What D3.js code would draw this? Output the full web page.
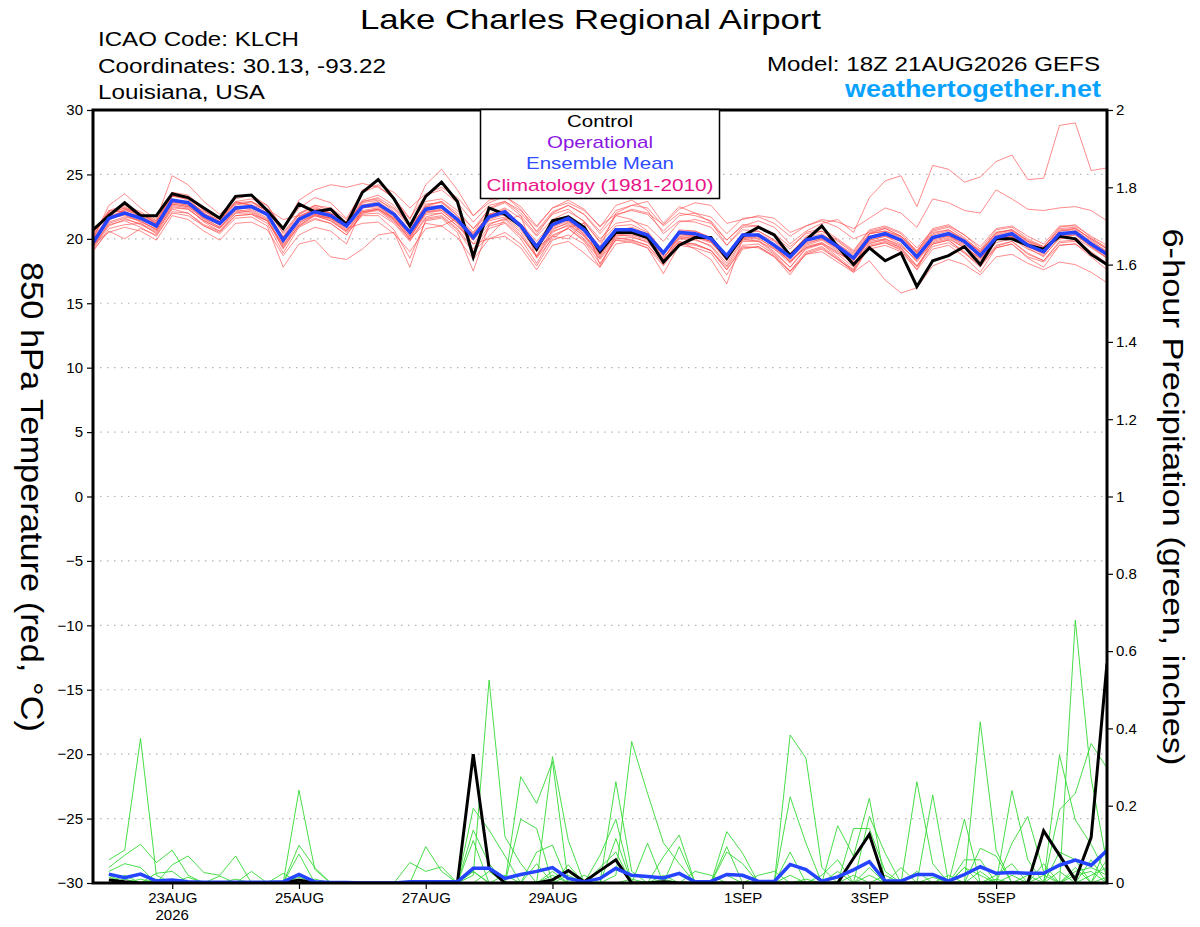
<!DOCTYPE html>
<html><head><meta charset="utf-8">
<script src="https://cdn.jsdelivr.net/npm/d3@7"></script>
<style>
body{margin:0;background:#fff}
svg{display:block}
text{font-family:"Liberation Sans",Arial,Helvetica,sans-serif}
</style>
</head><body>
<svg id="chart" width="1200" height="927"></svg>
<script>
// ---------------- DATA ----------------
const stepHours = 6;              // forecast step (hours)
const lastHour = 384;             // forecast length (hours)

// 850 hPa temperature, control run (black), hours 0..384 every 6 h
const tempControl = [20.7, 21.8,22.8,21.8,21.8, 23.5,23.2,22.4,21.6, 23.3,23.4,22.2,20.8, 22.7,22.1,22.3,21.1,
  23.6,24.6,23.1,21.0, 23.3,24.4,22.9,18.6, 22.4,21.9,21.0,19.2, 21.4,21.7,20.9,19.0,
  20.5,20.5,20.1,18.2, 19.5,20.1,20.1,18.5, 20.2,20.9,20.3,18.7, 19.9,21.0,19.4,18.0,
  19.3,18.3,18.9,16.3, 18.3,18.7,19.4,18.0, 20.0,20.0,19.5,19.2, 20.2,20.0,18.8,18.0];

// ensemble mean (blue)
const tempMean = [19.7, 21.6,22.0,21.6,21.0, 23.0,22.8,21.8,21.2, 22.4,22.5,21.9,19.9, 21.5,22.1,21.8,21.0,
  22.5,22.7,21.9,20.5, 22.3,22.5,21.5,20.1, 21.7,22.1,21.0,19.4, 21.1,21.6,20.7,19.2,
  20.7,20.7,20.3,18.9, 20.5,20.4,20.0,18.7, 20.3,20.3,19.5,18.6, 19.9,20.2,19.4,18.5,
  20.1,20.4,19.9,18.6, 20.1,20.4,19.8,18.7, 20.1,20.4,19.5,19.0, 20.4,20.5,19.6,18.8];

// ensemble members (thin red)
const tempMembers = [
 [19.9, 21.4,22.3,22.0,21.2, 23.3,23.1,22.0,21.0, 22.6,22.9,22.3,20.4, 21.9,22.6,22.4,21.5, 23.0,23.4,22.6,21.0, 22.5,22.9,22.0,20.8, 21.9,22.4,21.6,20.2, 21.5,22.1,21.4,20.0, 21.2,21.4,21.0,19.8, 21.3,21.5,21.2,19.9, 21.0,21.4,20.9,19.6, 20.6,21.2,21.5,20.5, 23.2,24.5,24.9,22.5, 25.7,25.4,24.4,24.8, 26.0,26.5,24.6,24.7, 28.8,29.0,25.3,25.5],
 [20.5, 22.2,22.6,22.1,21.4, 23.6,23.4,22.4,21.6, 22.9,23.1,22.6,20.7, 23.0,23.8,24.2,24.0, 24.3,24.0,23.2,21.6, 23.4,23.8,22.8,21.3, 22.6,22.9,22.0,20.6, 22.1,22.6,21.9,20.4, 21.8,22.3,22.0,21.1, 22.3,22.8,22.6,21.2, 21.5,21.8,21.6,20.5, 21.0,21.5,21.3,20.8, 21.6,22.4,22.0,20.9, 23.1,22.8,22.2,22.0, 23.8,23.1,22.3,22.2, 22.4,22.5,22.2,21.4],
 [19.2, 21.0,21.5,21.2,20.6, 22.4,22.3,21.4,20.8, 22.0,22.0,21.4,19.3, 21.0,21.6,21.2,20.3, 21.9,22.0,21.2,19.8, 21.6,21.8,20.8,19.2, 21.0,21.3,20.2,18.6, 20.3,20.8,19.9,18.4, 19.9,19.9,19.5,18.0, 19.7,19.6,19.1,17.6, 19.4,19.3,18.6,17.5, 18.8,19.0,18.2,17.4, 18.3,16.8,15.8,16.2, 17.9,18.4,18.0,17.2, 18.6,18.8,18.1,17.6, 18.2,18.0,17.4,16.6],
 [20.0, 22.6,23.5,22.4,21.5, 24.9,24.2,22.9,21.9, 23.1,23.4,22.6,20.8, 22.4,23.2,22.8,21.6, 23.6,24.1,23.1,21.5, 24.2,25.4,23.8,21.8, 22.8,23.3,22.3,20.5, 21.9,22.3,21.3,19.7, 21.0,21.1,20.5,19.0, 20.4,20.2,19.8,18.5, 20.0,19.8,19.2,18.3, 19.3,19.7,19.0,18.1, 19.6,20.0,19.4,18.4, 19.7,20.0,19.3,18.5, 19.7,20.0,19.2,18.7, 20.0,20.1,19.3,18.5],
 [19.0, 20.8,21.1,21.2,20.4, 22.3,22.0,21.0,20.4, 21.6,21.7,21.0,17.8, 19.6,19.9,18.6,18.4, 19.2,20.3,20.5,17.8, 21.5,21.7,20.7,18.9, 20.8,21.2,20.0,18.1, 20.2,20.8,19.8,18.1, 19.9,19.7,19.3,17.3, 19.5,19.3,18.9,17.2, 19.2,19.4,18.6,17.2, 18.9,19.3,18.4,17.5, 19.4,19.7,19.1,17.8, 19.4,19.7,18.9,17.9, 19.3,19.6,18.6,18.2, 19.5,19.6,18.8,17.9],
 [19.5, 21.5,21.9,21.3,20.8, 22.8,22.6,21.6,20.9, 22.1,22.3,21.6,19.4, 21.3,21.8,21.6,20.8, 21.2,21.3,20.4,19.0, 20.8,21.0,20.1,18.4, 20.0,20.5,19.6,17.9, 19.9,20.3,19.6,17.8, 19.6,19.8,19.3,17.9, 19.6,19.5,19.1,17.6, 19.3,19.4,18.7,17.4, 18.8,19.2,18.4,17.6, 20.4,20.6,20.1,18.9, 20.3,20.6,19.9,19.0, 20.4,20.7,19.8,19.2, 20.6,20.8,20.0,19.2],
 [19.8, 21.8,22.1,21.5,20.9, 22.9,22.6,21.7,21.4, 22.9,22.6,22.3,21.5, 21.8,22.2,21.9,21.2, 22.7,22.6,21.5,20.0, 22.1,22.2,21.2,20.4, 21.9,22.0,21.2,19.8, 21.3,21.4,20.3,18.8, 20.2,20.3,19.9,18.5, 20.1,20.2,19.8,18.3, 20.1,20.4,19.8,18.7, 20.2,20.6,19.8,18.9, 20.4,20.6,20.2,19.1, 20.6,20.9,20.1,19.0, 20.5,20.7,19.9,19.3, 20.8,20.9,19.9,19.0],
 [19.4, 21.3,21.7,21.4,20.7, 22.6,22.4,21.3,20.6, 22.0,22.2,21.5,19.2, 21.1,21.8,21.4,20.5, 21.8,21.8,20.7,18.5, 21.4,21.6,20.5,17.5, 21.1,21.6,20.5,18.7, 20.7,21.3,20.4,18.7, 20.5,20.6,20.1,18.6, 19.8,19.2,18.4,16.5, 20.0,20.1,19.2,18.1, 19.5,19.9,19.1,18.0, 19.9,20.2,19.6,18.2, 19.8,20.1,19.3,18.3, 19.9,20.2,19.3,18.6, 20.1,20.3,19.4,18.5],
 [20.1, 21.7,22.0,21.7,21.2, 23.1,22.8,21.9,21.5, 22.7,22.8,22.2,20.5, 22.0,22.6,22.2,21.3, 22.9,23.2,22.4,21.1, 22.9,23.1,22.2,20.8, 22.3,22.8,21.8,20.3, 22.0,22.6,21.9,20.6, 22.2,22.6,22.4,21.0, 22.0,21.8,21.4,19.9, 21.1,21.0,20.2,19.2, 20.5,20.8,20.0,19.1, 20.7,21.0,20.5,19.3, 20.7,21.0,20.3,19.4, 20.8,21.0,20.2,19.6, 21.0,21.0,20.2,19.5],
 [19.6, 21.9,22.4,21.8,21.1, 22.7,22.5,21.5,20.9, 22.3,22.6,22.0,19.7, 21.6,22.0,21.7,21.0, 22.4,22.5,21.7,20.2, 22.1,22.3,21.3,19.9, 21.6,22.0,21.0,19.3, 20.2,20.0,21.3,19.8, 21.8,21.5,20.6,19.0, 20.0,19.9,19.5,18.1, 19.9,19.9,19.0,17.8, 19.3,19.6,18.8,17.8, 19.7,19.9,19.3,17.9, 19.6,19.9,19.0,18.0, 19.5,19.8,18.9,18.3, 19.8,19.9,19.0,18.1],
 [20.3, 22.0,22.2,21.9,21.2, 23.0,22.9,22.1,21.6, 22.3,22.4,21.8,20.0, 21.5,22.0,21.6,20.9, 22.1,22.3,21.4,20.1, 21.9,22.0,21.0,19.9, 21.4,21.7,20.7,19.0, 20.6,21.0,20.0,18.5, 20.1,19.9,19.5,18.2, 20.0,20.1,19.7,18.4, 20.1,20.2,19.5,18.2, 19.4,19.7,18.9,18.2, 19.2,19.5,19.0,17.6, 20.0,20.3,19.5,18.4, 19.9,20.2,19.4,18.8, 20.3,20.5,19.6,18.7],
 [19.1, 20.6,20.0,20.8,20.3, 22.0,21.8,21.0,20.5, 21.8,21.9,21.2,18.9, 20.9,21.5,21.2,20.3, 22.0,22.3,21.6,20.2, 22.0,22.2,21.2,19.6, 21.2,21.5,20.3,18.6, 20.5,21.1,20.2,18.6, 20.3,20.4,20.0,18.4, 20.2,20.0,19.4,17.9, 19.8,19.8,18.9,17.8, 19.2,19.6,18.6,17.6, 19.5,19.8,19.3,17.9, 19.6,19.9,18.9,17.8, 19.4,19.8,18.8,18.3, 19.7,19.8,18.9,18.0],
 [20.0, 21.6,22.3,21.7,20.9, 23.3,23.2,22.2,21.3, 22.8,22.9,22.1,20.1, 21.6,22.3,21.9,21.0, 22.9,23.1,22.1,20.6, 22.6,22.9,21.8,20.2, 21.8,22.2,21.1,19.5, 21.3,21.8,20.9,19.4, 22.0,22.6,22.9,21.2, 22.5,22.0,21.3,19.5, 20.7,20.6,19.9,18.9, 20.1,20.4,19.6,18.7, 20.4,20.8,20.2,18.9, 20.4,20.7,19.9,19.0, 20.3,20.6,19.7,19.2, 20.6,20.7,19.8,19.0],
 [19.3, 21.2,21.6,21.1,20.5, 22.5,22.3,21.4,20.8, 22.2,22.1,21.4,19.6, 21.2,21.9,21.6,20.7, 22.2,22.4,21.6,20.4, 22.3,22.5,21.4,20.0, 21.8,22.3,21.1,19.2, 20.8,21.2,20.2,18.9, 20.6,20.9,20.4,19.0, 20.6,20.6,20.1,18.8, 20.4,20.3,19.4,18.2, 19.6,20.0,19.2,18.3, 19.8,20.0,19.5,18.3, 19.9,20.2,19.4,18.5, 20.0,20.3,19.4,18.9, 20.2,20.3,19.4,18.6],
 [20.4, 22.1,22.5,21.9,21.3, 23.4,23.0,22.0,21.3, 22.5,22.6,22.0,20.1, 21.7,22.4,22.0,21.1, 22.6,22.9,22.0,20.7, 22.7,22.8,21.8,20.5, 22.4,22.9,22.2,20.9, 22.4,23.0,22.3,20.9, 22.6,23.0,22.2,20.4, 21.4,21.3,20.9,19.5, 20.9,21.0,20.4,19.4, 20.4,20.6,19.9,19.0, 20.6,20.9,20.4,19.0, 20.8,21.1,20.3,19.2, 20.7,20.9,20.0,19.4, 20.9,21.1,20.1,19.3],
 [19.6, 20.5,20.9,20.6,19.9, 21.8,21.5,20.6,19.9, 21.2,21.3,20.7,18.7, 20.3,20.9,20.6,19.6, 22.4,22.6,21.9,20.6, 22.2,22.4,21.5,20.3, 21.5,21.9,20.9,19.2, 20.9,21.4,20.5,19.1, 20.5,20.4,20.1,18.7, 20.7,20.6,20.1,18.6, 20.2,20.0,19.3,18.4, 19.7,20.0,19.3,18.3, 19.9,20.2,19.8,18.5, 20.0,20.4,19.7,18.7, 20.1,20.4,19.6,19.0, 20.4,20.6,19.7,18.9],
 [19.9, 21.7,21.8,21.4,20.7, 22.7,22.5,21.6,21.1, 22.5,22.5,21.9,19.9, 21.4,21.9,21.5,20.6, 22.1,22.3,21.5,20.0, 21.2,21.0,21.6,19.0, 20.2,21.5,21.8,18.5, 20.0,20.9,21.2,18.0, 20.0,20.1,19.8,18.3, 19.8,19.6,19.1,17.8, 19.5,19.6,18.8,17.5, 19.0,19.4,18.5,17.4, 19.4,19.7,19.2,17.6, 19.2,19.5,18.6,17.4, 19.3,19.6,18.5,17.8, 19.5,19.6,18.6,17.6],
 [20.1, 22.2,22.1,21.6,20.9, 22.8,22.9,21.9,21.3, 22.3,22.5,21.8,20.2, 21.9,22.5,22.0,21.2, 22.8,23.0,22.3,20.9, 22.5,22.6,21.6,20.4, 21.9,22.1,21.1,19.6, 21.0,21.5,20.6,19.3, 20.7,20.5,20.0,18.8, 20.3,20.2,19.8,18.7, 20.4,20.6,19.9,18.8, 19.9,20.3,19.6,18.8, 20.2,20.5,20.0,18.8, 20.1,20.4,19.8,18.9, 20.2,20.5,19.6,19.1, 20.4,20.6,19.7,18.9],
 [19.4, 21.1,21.4,20.9,20.2, 22.1,22.0,21.1,20.6, 21.8,21.9,21.4,19.5, 21.0,21.8,21.4,20.6, 22.0,22.2,21.3,19.9, 21.7,22.0,21.0,19.6, 20.0,20.2,19.3,17.6, 19.5,19.8,18.9,17.8, 20.3,20.2,19.7,18.4, 20.4,20.3,19.9,18.6, 20.3,20.3,19.6,18.6, 19.8,20.1,19.3,18.4, 20.1,20.3,19.8,18.6, 20.1,20.2,19.6,18.6, 20.0,20.3,19.4,18.9, 20.3,20.4,19.5,18.7],
 [20.6, 22.0,22.4,21.9,21.4, 23.4,23.3,22.2,21.6, 22.8,22.6,21.8,20.1, 21.7,22.3,22.0,21.3, 23.8,24.2,23.6,22.4, 23.5,24.0,23.2,21.8, 23.0,23.3,22.5,21.0, 22.4,22.8,22.2,21.0, 21.9,22.2,21.9,20.6, 21.8,22.0,21.7,20.4, 21.6,21.7,21.2,20.2, 21.0,21.4,20.9,20.0, 20.5,20.8,20.2,19.0, 20.5,20.7,20.0,19.1, 20.5,20.7,19.8,19.4, 20.7,20.8,20.0,19.2]
];

// 6-hour precipitation (inches), hours 6..384 every 6 h
const precipControl = [.008,.003,0,0,0,0,0,0, 0,0,0,0,.008,0,0,0, 0,0,0,0,0,0,0,.333,
  .038,0,0,0,.008,.032,.003,.032, .06,0,0,.003,0,0,0,0, 0,0,0,0,0,0,0,.064,
  .126,0,0,0,0,0,0,0, 0,0,0,.135,.072,.008,.118,.568];

const precipMean = [.023,.014,.023,.005,.008,.003,.002,.002, .002,.002,.002,.003,.022,.003,.001,.001,
  0,0,0,.003,.003,.003,.003,.038, .038,.012,.022,.03,.04,.012,.003,.012,
  .038,.02,.017,.013,.025,.003,.004,.022, .02,.004,.004,.048,.035,.005,.016,.034,
  .055,.005,.005,.022,.022,.005,.022,.042, .025,.027,.025,.025,.046,.059,.046,.084];

const precipMembers = [
 [.06,.085,.374,.02,0,0,0,0, 0,0,0,0,.02,0,0,0, 0,0,0,0,0,0,0,.02, .525,.12,.05,0,0,0,0,0, .02,.366,.232,.104,.05,0,0,0, 0,0,0,.02,0,0,0,0, .02,0,0,0,0,0,0,.417, .085,0,0,0,0,.68,.271,.05],
 [.04,.072,.1,.053,.085,.02,0,0, 0,0,0,0,.24,.035,0,0, 0,0,0,0,0,0,0,.193, .137,.07,0,0,.327,.11,0,0, .262,.03,0,0,0,0,0,0, 0,0,0,.383,.323,.04,0,0, 0,0,0,.262,.05,0,0,0, 0,0,0,0,.331,.163,.1,.02],
 [.03,.05,.04,0,.047,.07,.027,.02, .07,0,0,0,.098,.04,0,0, 0,0,0,0,.094,.03,0,.137, .05,0,.275,.206,.314,0,0,.072, .165,0,.103,0,0,0,0,.133, .077,0,0,0,0,0,.148,.07, .219,0,0,0,0,0,.165,0, 0,.239,.06,0,.189,.232,.361,.297],
 [.02,0,0,.025,.03,0,0,.018, 0,.03,0,0,.075,0,0,0, 0,0,0,.053,.03,.042,0,.11, 0,0,.165,.141,0,.047,0,0, .115,0,0,.068,.124,0,0,.094, 0,0,0,.223,.103,0,0,0, .172,.077,0,0,.228,0,0,.09, .07,0,0,0,.08,.06,0,.1],
 [0,.02,0,0,0,0,0,0, 0,0,0,.025,0,0,0,0, 0,0,0,0,0,0,0,.03, 0,0,0,.08,.098,0,0,.04, .08,0,0,0,.094,0,0,.08, .05,0,0,.08,0,0,0,.141, .141,.03,0,0,0,0,.06,.06, 0,.103,.172,.03,0,.02,.03,0],
 [0,0,0,0,0,.015,0,0, 0,0,0,0,0,.01,0,0, 0,0,0,0,0,0,0,0, 0,.02,0,0,.03,0,0,0, 0,0,0,.02,0,0,0,0, 0,0,0,0,0,.02,.06,0, 0,0,.04,0,0,0,.04,.02, 0,0,0,.05,0,.03,.04,.02],
 [.015,0,.01,0,0,0,0,0, 0,0,0,0,0,0,0,0, 0,0,0,0,0,0,0,0, .03,0,0,0,0,.02,0,0, 0,.01,0,0,0,0,0,0, 0,.02,.03,0,0,0,0,.02, 0,0,0,.03,0,0,0,0, .02,.05,0,0,.03,0,.02,.04],
 [0,.01,0,0,0,0,0,0, .01,0,0,0,0,0,0,0, 0,0,0,0,0,0,0,0, 0,0,0,0,0,0,.02,0, 0,0,0,0,0,.03,.02,0, 0,0,0,0,.01,0,0,0, 0,.02,0,0,0,.02,0,0, .01,0,.02,0,0,.04,0,.06],
 [0,0,0,.01,0,0,0,0, 0,0,0,0,.015,0,0,0, 0,0,0,0,0,0,0,0, 0,0,0,0,.02,0,0,0, 0,0,0,.01,0,0,0,0, 0,0,0,0,0,0,0,0, .04,0,0,0,.015,0,0,.03, 0,0,0,.02,0,0,0,.015],
 [0,0,0,0,0,0,0,0, 0,0,0,0,0,0,0,0, 0,0,0,0,0,0,0,.03, 0,0,0,.05,0,0,0,0, 0,0,0,0,0,0,0,.02, 0,0,0,0,0,0,.03,0, 0,0,0,0,0,0,.04,0, 0,.02,0,0,0,0,.06,0]
];

// axes
const tempTicks = [-30,-25,-20,-15,-10,-5,0,5,10,15,20,25,30];
const precipTicks = [0,0.2,0.4,0.6,0.8,1,1.2,1.4,1.6,1.8,2];
const precipTickLabels = ["0","0.2","0.4","0.6","0.8","1","1.2","1.4","1.6","1.8","2"];
const dateTickHours = [30,78,126,174,246,294,342];
const dateTickLabels = ["23AUG","25AUG","27AUG","29AUG","1SEP","3SEP","5SEP"];
const yearLabel = "2026";

// texts
const titleText = "Lake Charles Regional Airport";
const infoLines = ["ICAO Code: KLCH","Coordinates: 30.13, -93.22","Louisiana, USA"];
const modelText = "Model: 18Z 21AUG2026 GEFS";
const siteText = "weathertogether.net";
const legendItems = ["Control","Operational","Ensemble Mean","Climatology (1981-2010)"];
const legendColors = ["#000000","#8a16e0","#2f4dff","#e8158a"];
const leftTitle = "850 hPa Temperature (red, \u00B0C)";
const rightTitle = "6-hour Precipitation (green, inches)";

// ---------------- DRAW ----------------
const L = 93, R = 1107, T = 110, B = 883;
const svg = d3.select("#chart");
const x = d3.scaleLinear().domain([0, lastHour]).range([L, R]);
const yT = d3.scaleLinear().domain([-30, 30]).range([B, T]);
const yP = d3.scaleLinear().domain([0, 2]).range([B, T]);

svg.append("rect").attr("width",1200).attr("height",927).attr("fill","#fff");

svg.append("defs").append("clipPath").attr("id","plotclip")
  .append("rect").attr("x",L).attr("y",T).attr("width",R-L).attr("height",B-T);

// gridlines
svg.append("g").selectAll("line").data(tempTicks.filter(d => d > -30 && d < 30)).join("line")
  .attr("x1",L).attr("x2",R).attr("y1",d => yT(d)).attr("y2",d => yT(d))
  .attr("stroke","#b4b4b4").attr("stroke-width",1.2).attr("stroke-dasharray","1.5,5.5");

const plot = svg.append("g").attr("clip-path","url(#plotclip)");
const tLine = d3.line().x((d,i) => x(i*stepHours)).y(d => yT(d));
const pLine = d3.line().x((d,i) => x((i+1)*stepHours)).y(d => yP(d));

plot.append("g").selectAll("path").data(tempMembers).join("path")
  .attr("d", tLine).attr("fill","none").attr("stroke","#ff4848").attr("stroke-opacity",0.7).attr("stroke-width",0.9);
plot.append("g").selectAll("path").data(precipMembers).join("path")
  .attr("d", pLine).attr("fill","none").attr("stroke","#33d933").attr("stroke-width",0.9);

plot.append("path").datum(tempControl).attr("d", tLine).attr("fill","none")
  .attr("stroke","#000").attr("stroke-width",3).attr("stroke-linejoin","miter");
plot.append("path").datum(precipControl).attr("d", pLine).attr("fill","none")
  .attr("stroke","#000").attr("stroke-width",3).attr("stroke-linejoin","miter");
plot.append("path").datum(tempMean).attr("d", tLine).attr("fill","none")
  .attr("stroke","#2444ff").attr("stroke-width",3.5);
plot.append("path").datum(precipMean).attr("d", pLine).attr("fill","none")
  .attr("stroke","#2444ff").attr("stroke-width",3.5);

// axes
const fs = "15px";
const gl = svg.append("g").attr("transform",`translate(${L},0)`)
  .call(d3.axisLeft(yT).tickValues(tempTicks).tickSize(6).tickPadding(4).tickFormat(d3.format("d")));
const gr = svg.append("g").attr("transform",`translate(${R},0)`)
  .call(d3.axisRight(yP).tickValues(precipTicks).tickSize(6).tickPadding(3).tickFormat((d,i) => precipTickLabels[i]));
const gb = svg.append("g").attr("transform",`translate(0,${B})`)
  .call(d3.axisBottom(x).tickValues(dateTickHours).tickSize(6).tickPadding(3).tickFormat((d,i) => dateTickLabels[i]));
[gl,gr,gb].forEach(g => {
  g.select(".domain").remove();
  g.selectAll(".tick line").attr("stroke","#000").attr("stroke-width",1.2);
  g.selectAll(".tick text").attr("fill","#000").style("font-size",fs)
    .style("font-family",'"Liberation Sans",Arial,sans-serif');
});
svg.append("text").attr("x", x(dateTickHours[0])).attr("y", 920).attr("text-anchor","middle")
  .style("font-size",fs).text(yearLabel);

// frame
svg.append("rect").attr("x",L).attr("y",T).attr("width",R-L).attr("height",B-T)
  .attr("fill","none").attr("stroke","#000").attr("stroke-width",3);

// legend
const lg = svg.append("g");
lg.append("rect").attr("x",480.5).attr("y",109.5).attr("width",239).attr("height",89)
  .attr("fill","#fff").attr("stroke","#000").attr("stroke-width",1.5);
const legendBase = [126.5,147.8,169.2,190.5];
const legendLen = [66,106,148,227];
lg.selectAll("text").data(legendItems).join("text")
  .attr("x",600).attr("y",(d,i) => legendBase[i]).attr("text-anchor","middle")
  .attr("fill",(d,i) => legendColors[i]).style("font-size","17px")
  .attr("textLength",(d,i) => legendLen[i]).attr("lengthAdjust","spacingAndGlyphs")
  .text(d => d);

// header texts
svg.append("text").attr("x",360).attr("y",28.5).style("font-size","28px")
  .attr("textLength",461).attr("lengthAdjust","spacingAndGlyphs").text(titleText);
const infoBase = [46,72.5,99.3];
const infoLen = [201,288,167];
svg.append("g").selectAll("text").data(infoLines).join("text")
  .attr("x",98).attr("y",(d,i) => infoBase[i]).style("font-size","20px")
  .attr("textLength",(d,i) => infoLen[i]).attr("lengthAdjust","spacingAndGlyphs").text(d => d);
svg.append("text").attr("x",767).attr("y",71).style("font-size","20px")
  .attr("textLength",333).attr("lengthAdjust","spacingAndGlyphs").text(modelText);
svg.append("text").attr("x",845).attr("y",96.5).style("font-size","23px").style("font-weight","bold")
  .attr("fill","#0aa2ff").attr("textLength",256).attr("lengthAdjust","spacingAndGlyphs").text(siteText);

// axis titles (rotated, reading top to bottom)
svg.append("text").attr("transform","translate(21,497) rotate(90)").attr("text-anchor","middle")
  .style("font-size","31px").attr("textLength",470).attr("lengthAdjust","spacingAndGlyphs").text(leftTitle);
svg.append("text").attr("transform","translate(1163,497) rotate(90)").attr("text-anchor","middle")
  .style("font-size","30px").attr("textLength",537).attr("lengthAdjust","spacingAndGlyphs").text(rightTitle);
</script>
</body></html>
